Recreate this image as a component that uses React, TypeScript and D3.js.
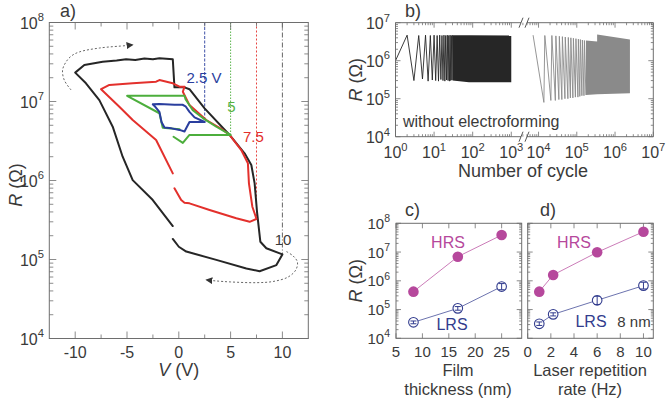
import React from "react";
import * as d3 from "d3";

const FONT = "'Liberation Sans', Arial, Helvetica, sans-serif";
const TXT = "#3a3a3a";
const AXIS = "#6e6e6e";

type Pt = [number, number]; // [x value, R in ohm]

// ---------------- Panel a) R–V loops (V in volts, R in ohms) ----------------
const loop10V: Pt[] = [
  [-0.58, 2.65e5], [-2.51, 5.66e5], [-4.45, 1.01e6], [-5.42, 2.0e6], [-6.38, 4.8e6], [-7.67, 1.04e7], [-8.96, 1.7e7], [-10, 2.32e7],
  [-9.12, 2.9e7], [-7.35, 3.19e7], [-6.0, 3.3e7], [-5.09, 3.42e7], [-4.2, 3.35e7], [-3.32, 3.5e7], [-2.5, 3.42e7], [-1.87, 3.52e7], [-0.58, 3.42e7],
  [-0.42, 1.51e7], [0.55, 1.51e7], [1.03, 1.43e7], [2.49, 8.2e6], [4.9, 3.77e6], [6.35, 2.21e6], [7.0, 1.57e6], [7.32, 9.2e5], [7.55, 4.0e5],
  [7.87, 1.68e5], [8.45, 1.39e5], [10, 1.16e5],
  [9.42, 8.5e4], [7.8, 7.1e4], [6.52, 7.7e4], [3.62, 9.9e4], [0.72, 1.26e5], [0, 1.45e5], [-0.58, 1.82e5],
];
const loop7_5V: Pt[] = [
  [-0.42, 7.96e5], [0.23, 5.66e5], [0.55, 5.24e5], [1.03, 5.14e5], [2.97, 4.24e5], [5.55, 3.33e5], [6.84, 3.0e5], [7.5, 3.26e5],
  [7.1, 4.66e5], [6.77, 9.2e5], [6.67, 1.65e6], [6.03, 2.43e6], [4.9, 3.77e6], [4.26, 4.36e6], [2.65, 5.83e6], [1.03, 9.0e6], [0.39, 1.33e7], [0.55, 1.54e7],
  [0.07, 1.54e7], [-0.58, 1.7e7], [-1.87, 1.87e7], [-2.19, 1.78e7], [-4.45, 1.7e7], [-6.7, 1.62e7], [-7.5, 1.43e7],
  [-5.74, 8.6e6], [-4.45, 5.83e6], [-2.19, 3.26e6], [-0.58, 1.23e6],
];
const loop5V: Pt[] = [
  [0.07, 4.45e6], [-1.55, 4.66e6], [-1.87, 7.1e6], [-4.99, 1.18e7], [0.55, 1.18e7], [0.65, 1.07e7], [1.35, 7.76e6], [2.32, 6.17e6],
  [3.62, 4.79e6], [5, 3.77e6], [3.62, 3.77e6], [1.03, 3.77e6], [0.39, 2.99e6], [-0.51, 3.58e6],
];
const loop2_5V: Pt[] = [
  [-2.51, 9.2e6], [-1.87, 9.3e6], [-0.42, 9.1e6], [0.36, 9.1e6], [0.65, 8.7e6], [1.03, 7.4e6], [1.52, 6.3e6], [2.5, 5.5e6],
  [1.03, 5.5e6], [0.55, 4.17e6], [0.07, 4.37e6], [-0.7, 4.57e6], [-1.38, 4.68e6], [-1.67, 5.5e6], [-1.87, 7.4e6], [-2.25, 8.5e6], [-2.51, 9.2e6],
];
const sweepMaxV = [2.5, 5, 7.5, 10];
const sweepTipR = [5.5e6, 3.77e6, 3.26e5, 1.16e5];
const sweepLabels = ["2.5 V", "5", "7.5", "10"];
const sweepLabelPos: Pt[] = [[0.74, 1.73e7], [4.68, 7.4e6], [6.19, 3.1e6], [9.25, 1.53e5]];
const arrowSet: Pt[] = [
  [-10.4, 1.4e7], [-11.05, 1.86e7], [-11.22, 2.5e7], [-10.89, 3.16e7], [-10.37, 3.77e7], [-9.6, 4.24e7], [-7.67, 4.75e7], [-5.09, 5.1e7], [-4.5, 5.2e7],
];
const arrowReset: Pt[] = [
  [10.39, 1.26e5], [11.03, 1.11e5], [11.45, 9.3e4], [11.3, 7.4e4], [10.55, 6.0e4], [9.1, 5.27e4], [7.5, 5.09e4], [5.0, 5.2e4], [3.62, 5.35e4], [2.7, 5.5e4],
];
const aXTicks = [-10, -7.5, -5, -2.5, 0, 2.5, 5, 7.5, 10];
const aXLabels = [-10, -5, 0, 5, 10];

// ---------------- Panel b) endurance ----------------
const bEarlyCycles = [1, 2, 3, 4, 5, 6, 7, 8, 9, 10, 11, 12, 13, 14, 15, 16, 17, 18, 19, 20, 21, 22, 23, 24, 25, 26, 27, 28, 29, 30];
const bEarlyR = [
  1.0e6, 4.7e6, 3.0e5, 4.6e6, 3.3e5, 4.7e6, 2.9e5, 4.6e6, 3.1e5, 4.7e6, 3.0e5, 4.6e6, 2.9e5, 4.7e6, 3.2e5,
  4.6e6, 3.0e5, 4.7e6, 2.9e5, 4.6e6, 3.1e5, 4.7e6, 3.0e5, 4.6e6, 2.9e5, 4.7e6, 3.0e5, 4.6e6, 3.1e5, 4.7e6,
];
const bDenseCycles = [30, 80, 1000];
const bDenseHRS = [4.7e6, 4.7e6, 4.6e6];
const bDenseLRS = [3.0e5, 2.7e5, 2.7e5];
const bLateCycles = [
  7.2e3, 1.38e4, 1.46e4, 2.1e4, 2.23e4, 2.75e4, 2.84e4, 3.4e4, 3.5e4, 4.07e4, 4.2e4, 4.9e4, 5.0e4, 5.85e4, 6.0e4,
  6.8e4, 7.0e4, 7.9e4, 8.15e4, 9.2e4, 9.5e4, 1.07e5, 1.1e5, 1.2e5, 1.24e5, 1.36e5, 1.4e5, 1.54e5, 1.58e5, 1.73e5,
];
const bLateR = [
  4.7e6, 8.0e4, 4.6e6, 9.0e4, 4.6e6, 9.0e4, 4.5e6, 9.5e4, 4.4e6, 9.5e4, 4.3e6, 1.0e5, 4.2e6, 1.0e5, 4.1e6,
  1.05e5, 4.0e6, 1.05e5, 3.9e6, 1.1e5, 3.8e6, 1.1e5, 3.7e6, 1.15e5, 3.6e6, 1.2e5, 3.5e6, 1.2e5, 3.4e6, 1.25e5,
];
const bLateDenseCycles = [1.73e5, 3.4e5, 3.4e5, 2.45e6];
const bLateDenseHRS = [3.4e6, 3.2e6, 4.9e6, 3.6e6];
const bLateDenseLRS = [1.25e5, 1.3e5, 1.3e5, 1.4e5];
const bLeftExp = [0, 1, 2, 3];
const bRightExp = [4, 5, 6, 7];

// ---------------- Panels c) and d) ----------------
const thickness = [8.3, 16.7, 25];
const thickHRS = [4.2e5, 6.9e6, 3.9e7];
const thickHRSLo = [3.9e5, 5.2e6, 3.6e7];
const thickHRSHi = [4.5e5, 9.0e6, 4.2e7];
const thickLRS = [3.6e4, 1.1e5, 6.3e5];
const thickLRSLo = [3.2e4, 0.95e5, 4.9e5];
const thickLRSHi = [4.0e4, 1.27e5, 8.0e5];
const cXTicks = [5, 10, 15, 20, 25];

const rate = [1, 2.2, 6, 10];
const rateHRS = [4.2e5, 1.6e6, 9.8e6, 5.1e7];
const rateHRSLo = [3.9e5, 1.5e6, 9.0e6, 4.7e7];
const rateHRSHi = [4.6e5, 1.75e6, 1.07e7, 5.5e7];
const rateLRS = [3.2e4, 6.8e4, 2.1e5, 6.8e5];
const rateLRSLo = [2.8e4, 6.0e4, 1.5e5, 5.2e5];
const rateLRSHi = [3.7e4, 7.7e4, 2.9e5, 8.9e5];
const dXTicks = [0, 2, 4, 6, 8, 10];

const HRS_C = "#b6489c";
const LRS_C = "#323c8e";

function logTicks(lo: number, hi: number) {
  const out: { v: number; major: boolean }[] = [];
  const d0 = Math.floor(Math.log10(lo)) - 1;
  const d1 = Math.ceil(Math.log10(hi)) + 1;
  for (let d = d0; d <= d1; d++)
    for (let k = 1; k <= 9; k++) {
      const v = k * Math.pow(10, d);
      if (v >= lo * 0.9999 && v <= hi * 1.0001) out.push({ v, major: k === 1 });
    }
  return out;
}

function Pow({ x, y, exp, anchor = "middle", fs = 16 }: { x: number; y: number; exp: number; anchor?: string; fs?: number }) {
  return (
    <text x={x} y={y} textAnchor={anchor as any} fontSize={fs} fill={TXT} fontFamily={FONT}>
      10<tspan dy={-fs * 0.45} fontSize={fs * 0.7}>{exp}</tspan>
    </text>
  );
}

function RLabel({ x, y, fs }: { x: number; y: number; fs: number }) {
  return (
    <text transform={`translate(${x},${y}) rotate(-90)`} textAnchor="middle" fontSize={fs} fill={TXT} fontFamily={FONT}>
      <tspan fontStyle="italic">R</tspan> (Ω)
    </text>
  );
}

export default function App() {
  // ---- panel a scales
  const xA = d3.scaleLinear().domain([-12.5, 12.5]).range([49.3, 308.3]);
  const yA = d3.scaleLog().domain([1e4, 1e8]).range([338.5, 22.5]);
  const lineA = d3.line<Pt>().x((d) => xA(d[0])).y((d) => yA(d[1]));
  const smoothA = d3.line<Pt>().x((d) => xA(d[0])).y((d) => yA(d[1])).curve(d3.curveCatmullRom);
  const [ax0, ax1] = xA.range();
  const [ay1, ay0] = yA.range();

  // ---- panel b scales
  const bBreak = 524;
  const xB1 = d3.scaleLog().domain([1, Math.pow(10, 3.33)]).range([395.5, bBreak]);
  const xB2 = d3.scaleLog().domain([Math.pow(10, 3.62), 1e7]).range([bBreak, 653.3]);
  const yB = d3.scaleLog().domain([1e4, 1e7]).range([136.7, 22.7]);
  const bx0 = 395.5, bx1 = 653.3, by0 = 22.7, by1 = 136.7;
  const earlyPts: Pt[] = bEarlyCycles.map((c, i) => [c, bEarlyR[i]]);
  const latePts: Pt[] = bLateCycles.map((c, i) => [c, bLateR[i]]);
  const lineB1 = d3.line<Pt>().x((d) => xB1(d[0])).y((d) => yB(d[1]));
  const lineB2 = d3.line<Pt>().x((d) => xB2(d[0])).y((d) => yB(d[1]));
  const denseB1 = d3.area<number>().x((i) => xB1(bDenseCycles[i])).y0((i) => yB(bDenseLRS[i])).y1((i) => yB(bDenseHRS[i]));
  const denseB2 = d3.area<number>().x((i) => xB2(bLateDenseCycles[i])).y0((i) => yB(bLateDenseLRS[i])).y1((i) => yB(bLateDenseHRS[i]));

  // ---- panels c/d scales
  const xC = d3.scaleLinear().domain([5, 28.8]).range([396, 521.7]);
  const xD = d3.scaleLinear().domain([0, 10.85]).range([527.7, 653.3]);
  const yCD = d3.scaleLog().domain([1e4, 1e8]).range([338.3, 223.3]);
  const cy0 = 223.3, cy1 = 338.3;

  const aYT = logTicks(1e4, 1e8);
  const bYT = logTicks(1e4, 1e7);
  const bXT1 = logTicks(1, Math.pow(10, 3.33));
  const bXT2 = logTicks(Math.pow(10, 3.62), 1e7);
  const cdYT = logTicks(1e4, 1e8);

  const loops: { data: Pt[]; color: string }[] = [
    { data: loop10V, color: "#262626" },
    { data: loop7_5V, color: "#e3302c" },
    { data: loop5V, color: "#4cae3c" },
    { data: loop2_5V, color: "#2a3e9e" },
  ];
  const sweepColors = ["#2a3e9e", "#4cae3c", "#e3302c", "#555555"];
  const sweepLabelColors = ["#2a3e9e", "#55b245", "#e3302c", "#3a3a3a"];
  const sweepDash = ["3,1.5", "1.5,1.5", "2,2", "5,2,1,2"];

  const cdPanel = (
    xs: d3.ScaleLinear<number, number>,
    xv: number[],
    hrs: number[], hLo: number[], hHi: number[],
    lrs: number[], lLo: number[], lHi: number[],
  ) => {
    const lineH = d3.line<number>().x((i) => xs(xv[i])).y((i) => yCD(hrs[i]));
    const lineL = d3.line<number>().x((i) => xs(xv[i])).y((i) => yCD(lrs[i]));
    const idx = xv.map((_, i) => i);
    return (
      <g>
        <path d={lineH(idx) || ""} fill="none" stroke={HRS_C} strokeWidth={0.9} strokeOpacity={0.8} />
        <path d={lineL(idx) || ""} fill="none" stroke={LRS_C} strokeWidth={0.9} strokeOpacity={0.8} />
        {idx.map((i) => (
          <g key={"h" + i}>
            <line x1={xs(xv[i])} x2={xs(xv[i])} y1={yCD(hLo[i])} y2={yCD(hHi[i])} stroke={HRS_C} strokeWidth={1} />
            <line x1={xs(xv[i]) - 3} x2={xs(xv[i]) + 3} y1={yCD(hLo[i])} y2={yCD(hLo[i])} stroke={HRS_C} strokeWidth={1} />
            <line x1={xs(xv[i]) - 3} x2={xs(xv[i]) + 3} y1={yCD(hHi[i])} y2={yCD(hHi[i])} stroke={HRS_C} strokeWidth={1} />
            <circle cx={xs(xv[i])} cy={yCD(hrs[i])} r={5.3} fill={HRS_C} />
          </g>
        ))}
        {idx.map((i) => (
          <g key={"l" + i}>
            <circle cx={xs(xv[i])} cy={yCD(lrs[i])} r={4.8} fill="#fff" stroke={LRS_C} strokeWidth={1.1} />
            <line x1={xs(xv[i])} x2={xs(xv[i])} y1={yCD(lLo[i])} y2={yCD(lHi[i])} stroke={LRS_C} strokeWidth={1} />
            <line x1={xs(xv[i]) - 3} x2={xs(xv[i]) + 3} y1={yCD(lLo[i])} y2={yCD(lLo[i])} stroke={LRS_C} strokeWidth={1} />
            <line x1={xs(xv[i]) - 3} x2={xs(xv[i]) + 3} y1={yCD(lHi[i])} y2={yCD(lHi[i])} stroke={LRS_C} strokeWidth={1} />
          </g>
        ))}
      </g>
    );
  };

  const cdFrame = (xs: d3.ScaleLinear<number, number>, ticks: number[], showY: boolean) => {
    const [x0, x1] = xs.range();
    return (
      <g>
        <rect x={x0} y={cy0} width={x1 - x0} height={cy1 - cy0} fill="none" stroke={AXIS} strokeWidth={1} />
        {cdYT.map((t, i) => {
          const y = yCD(t.v);
          const len = t.major ? 5 : 2.5;
          return (
            <g key={i}>
              <line x1={x0} x2={x0 + len} y1={y} y2={y} stroke={AXIS} strokeWidth={0.8} />
              <line x1={x1} x2={x1 - len} y1={y} y2={y} stroke={AXIS} strokeWidth={0.8} />
            </g>
          );
        })}
        {ticks.map((t) => (
          <g key={t}>
            <line x1={xs(t)} x2={xs(t)} y1={cy1} y2={cy1 - 5} stroke={AXIS} strokeWidth={0.8} />
            <line x1={xs(t)} x2={xs(t)} y1={cy0} y2={cy0 + 5} stroke={AXIS} strokeWidth={0.8} />
            <text x={xs(t)} y={357} textAnchor="middle" fontSize={15} fill={TXT} fontFamily={FONT}>{t}</text>
          </g>
        ))}
        {showY && [4, 5, 6, 7, 8].map((e) => <Pow key={e} x={390} y={yCD(Math.pow(10, e)) + 5.5} exp={e} anchor="end" fs={15} />)}
      </g>
    );
  };

  return (
    <svg width={666} height={401} style={{ position: "absolute", left: 0, top: 0, background: "#fff" }} fontFamily={FONT}>
      <defs>
        <marker id="ah" viewBox="0 0 10 10" refX="8" refY="5" markerWidth="7" markerHeight="7" orient="auto" markerUnits="userSpaceOnUse">
          <path d="M0,0 L10,5 L0,10 z" fill="#333" />
        </marker>
      </defs>

      {/* ================= Panel a ================= */}
      <text x={60} y={17} fontSize={18} fill={TXT}>a)</text>
      {sweepMaxV.map((v, i) => (
        <line key={v} x1={xA(v)} x2={xA(v)} y1={ay0} y2={yA(sweepTipR[i])} stroke={sweepColors[i]} strokeWidth={0.9} strokeDasharray={sweepDash[i]} />
      ))}
      {loops.map((l, i) => (
        <path key={i} d={lineA(l.data) || ""} fill="none" stroke={l.color} strokeWidth={2} strokeLinejoin="round" strokeLinecap="round" />
      ))}
      <path d={smoothA(arrowSet) || ""} fill="none" stroke="#555" strokeWidth={0.9} strokeDasharray="2,2" markerEnd="url(#ah)" />
      <path d={smoothA(arrowReset) || ""} fill="none" stroke="#555" strokeWidth={0.9} strokeDasharray="2,2" markerEnd="url(#ah)" />
      {sweepLabels.map((s, i) => (
        <text key={s} x={xA(sweepLabelPos[i][0])} y={yA(sweepLabelPos[i][1])} fontSize={15} fill={sweepLabelColors[i]}>{s}</text>
      ))}
      <rect x={ax0} y={ay0} width={ax1 - ax0} height={ay1 - ay0} fill="none" stroke={AXIS} strokeWidth={1} />
      {aYT.map((t, i) => {
        const y = yA(t.v);
        const len = t.major ? 7 : 4;
        return (
          <g key={i}>
            <line x1={ax0} x2={ax0 + len} y1={y} y2={y} stroke={AXIS} strokeWidth={0.8} />
            <line x1={ax1} x2={ax1 - len} y1={y} y2={y} stroke={AXIS} strokeWidth={0.8} />
          </g>
        );
      })}
      {aXTicks.map((t) => {
        const len = t % 5 === 0 ? 7 : 4;
        return (
          <g key={t}>
            <line x1={xA(t)} x2={xA(t)} y1={ay1} y2={ay1 - len} stroke={AXIS} strokeWidth={0.8} />
            <line x1={xA(t)} x2={xA(t)} y1={ay0} y2={ay0 + len} stroke={AXIS} strokeWidth={0.8} />
          </g>
        );
      })}
      {[4, 5, 6, 7, 8].map((e) => <Pow key={e} x={44} y={yA(Math.pow(10, e)) + 6} exp={e} anchor="end" fs={16} />)}
      {aXLabels.map((t) => (
        <text key={t} x={xA(t)} y={358} textAnchor="middle" fontSize={16} fill={TXT}>{t}</text>
      ))}
      <text x={xA(0)} y={376} textAnchor="middle" fontSize={18} fill={TXT}>
        <tspan fontStyle="italic">V</tspan> (V)
      </text>
      <RLabel x={22} y={185} fs={18} />

      {/* ================= Panel b ================= */}
      <text x={405} y={17} fontSize={18} fill={TXT}>b)</text>
      <path d={lineB1(earlyPts) || ""} fill="none" stroke="#262626" strokeWidth={0.9} />
      <path d={denseB1(bDenseCycles.map((_, i) => i)) || ""} fill="#262626" />
      <path d={lineB2(latePts) || ""} fill="none" stroke="#8a8a8a" strokeWidth={0.9} />
      <path d={denseB2(bLateDenseCycles.map((_, i) => i)) || ""} fill="#8a8a8a" />
      <line x1={bx0} x2={bx0} y1={by0} y2={by1} stroke={AXIS} />
      <line x1={bx1} x2={bx1} y1={by0} y2={by1} stroke={AXIS} />
      <line x1={bx0} x2={bBreak - 3} y1={by0} y2={by0} stroke={AXIS} />
      <line x1={bBreak + 3} x2={bx1} y1={by0} y2={by0} stroke={AXIS} />
      <line x1={bx0} x2={bBreak - 3} y1={by1} y2={by1} stroke={AXIS} />
      <line x1={bBreak + 3} x2={bx1} y1={by1} y2={by1} stroke={AXIS} />
      {[by0, by1].map((y) => (
        <g key={y}>
          <line x1={bBreak - 5} x2={bBreak - 1} y1={y + 5} y2={y - 5} stroke="#444" strokeWidth={0.9} />
          <line x1={bBreak + 1} x2={bBreak + 5} y1={y + 5} y2={y - 5} stroke="#444" strokeWidth={0.9} />
        </g>
      ))}
      {bYT.map((t, i) => {
        const y = yB(t.v);
        const len = t.major ? 5 : 2.5;
        return (
          <g key={i}>
            <line x1={bx0} x2={bx0 + len} y1={y} y2={y} stroke={AXIS} strokeWidth={0.8} />
            <line x1={bx1} x2={bx1 - len} y1={y} y2={y} stroke={AXIS} strokeWidth={0.8} />
          </g>
        );
      })}
      {[...bXT1.map((t) => ({ x: xB1(t.v), major: t.major })), ...bXT2.map((t) => ({ x: xB2(t.v), major: t.major }))].map((t, i) => {
        const len = t.major ? 5 : 2.5;
        return (
          <g key={i}>
            <line x1={t.x} x2={t.x} y1={by1} y2={by1 - len} stroke={AXIS} strokeWidth={0.8} />
            <line x1={t.x} x2={t.x} y1={by0} y2={by0 + len} stroke={AXIS} strokeWidth={0.8} />
          </g>
        );
      })}
      {[4, 5, 6, 7].map((e) => <Pow key={e} x={390} y={yB(Math.pow(10, e)) + 6} exp={e} anchor="end" fs={16} />)}
      {bLeftExp.map((e) => <Pow key={e} x={xB1(Math.pow(10, e))} y={158} exp={e} fs={16} />)}
      {bRightExp.map((e) => <Pow key={e} x={xB2(Math.pow(10, e))} y={158} exp={e} fs={16} />)}
      <text x={403} y={127} fontSize={16} fill={TXT}>without electroforming</text>
      <text x={523} y={177} textAnchor="middle" fontSize={18} fill={TXT}>Number of cycle</text>
      <RLabel x={362} y={79.7} fs={18} />

      {/* ================= Panels c & d ================= */}
      <text x={405} y={216} fontSize={18} fill={TXT}>c)</text>
      <text x={540} y={216} fontSize={18} fill={TXT}>d)</text>
      {cdFrame(xC, cXTicks, true)}
      {cdFrame(xD, dXTicks, false)}
      {cdPanel(xC, thickness, thickHRS, thickHRSLo, thickHRSHi, thickLRS, thickLRSLo, thickLRSHi)}
      {cdPanel(xD, rate, rateHRS, rateHRSLo, rateHRSHi, rateLRS, rateLRSLo, rateLRSHi)}
      <text x={448} y={248} textAnchor="middle" fontSize={16} fill={HRS_C}>HRS</text>
      <text x={452} y={330} textAnchor="middle" fontSize={16} fill={LRS_C}>LRS</text>
      <text x={574} y={248} textAnchor="middle" fontSize={16} fill={HRS_C}>HRS</text>
      <text x={591} y={327} textAnchor="middle" fontSize={16} fill={LRS_C}>LRS</text>
      <text x={634} y={327} textAnchor="middle" fontSize={15} fill={TXT}>8 nm</text>
      <text x={458} y={376} textAnchor="middle" fontSize={16.5} fill={TXT}>Film</text>
      <text x={458} y={395} textAnchor="middle" fontSize={16.5} fill={TXT}>thickness (nm)</text>
      <text x={590} y={376} textAnchor="middle" fontSize={16.5} fill={TXT}>Laser repetition</text>
      <text x={590} y={395} textAnchor="middle" fontSize={16.5} fill={TXT}>rate (Hz)</text>
      <RLabel x={362} y={280.8} fs={18} />
    </svg>
  );
}
